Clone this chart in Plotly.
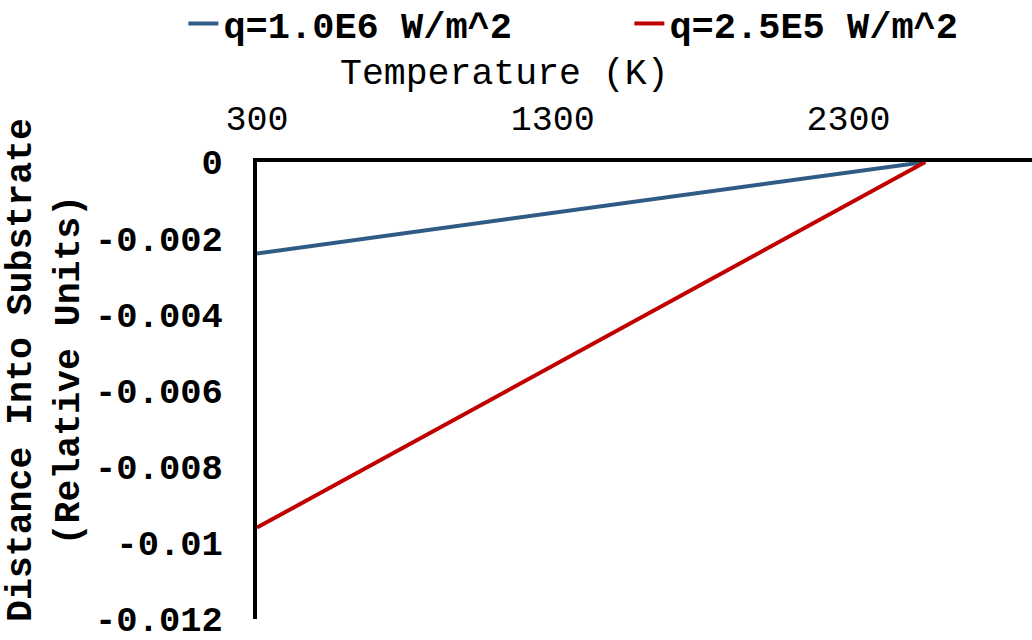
import plotly.graph_objects as go

temps = [300, 2560]
depth_q1e6 = [-0.0024, 0.0]
depth_q25e5 = [-0.0096, 0.0]
series_names = ["q=1.0E6 W/m^2", "q=2.5E5 W/m^2"]
x_ticks = [300, 1300, 2300]
y_ticks = [0, -0.002, -0.004, -0.006, -0.008, -0.01, -0.012]
y_tick_labels = ["0", "-0.002", "-0.004", "-0.006", "-0.008", "-0.01", "-0.012"]

MONO = "Liberation Mono, Courier New, monospace"

fig = go.Figure()
fig.add_trace(go.Scatter(x=temps, y=depth_q1e6, mode="lines", name=series_names[0],
                         line=dict(color="#2F5B84", width=4)))
fig.add_trace(go.Scatter(x=temps, y=depth_q25e5, mode="lines", name=series_names[1],
                         line=dict(color="#C00000", width=4)))

fig.update_layout(
    width=1032, height=640,
    margin=dict(l=257, r=0, t=162, b=21, autoexpand=False),
    paper_bgcolor="white", plot_bgcolor="white",
    showlegend=True,
    legend=dict(orientation="h", x=-0.095, xanchor="left", y=1.37, yanchor="top",
                font=dict(family=MONO, size=37, color="black", weight="bold"),
                entrywidth=401, entrywidthmode="pixels", itemwidth=30,
                bgcolor="rgba(0,0,0,0)"),
    xaxis=dict(side="top", range=[300, 2921], tickvals=x_ticks,
               showgrid=False, zeroline=False, showline=True, linecolor="black", linewidth=4,
               ticks="", ticklabelstandoff=14,
               tickfont=dict(family=MONO, size=35, color="black")),
    yaxis=dict(range=[-0.012, 0], tickvals=y_ticks, ticktext=y_tick_labels,
               showgrid=False, zeroline=False, showline=True, linecolor="black", linewidth=4,
               ticks="", ticklabelstandoff=23, ticklabeloverflow="allow",
               tickfont=dict(family=MONO, size=35.5, color="black", weight="bold")),
)

fig.add_annotation(text="Temperature (K)", xref="paper", yref="paper", x=0.319, y=1,
                   xanchor="center", yanchor="middle", yshift=88, showarrow=False,
                   font=dict(family=MONO, size=36.5, color="black"))
fig.add_annotation(text="Distance Into Substrate<br>(Relative Units)", xref="paper", yref="paper",
                   x=0, xshift=-212, y=0.545, xanchor="center", yanchor="middle",
                   textangle=-90, showarrow=False,
                   font=dict(family=MONO, size=36.5, color="black", weight="bold"))

fig.write_html("out.html")
